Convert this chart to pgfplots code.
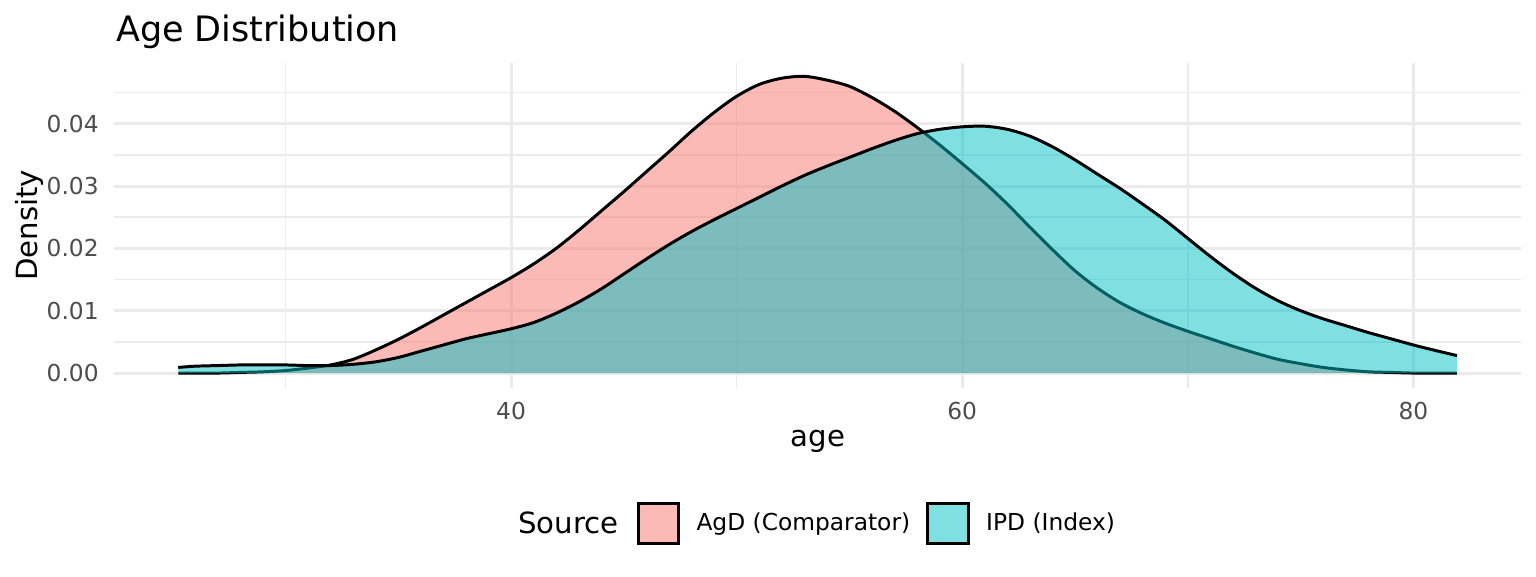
\documentclass[border=0pt]{standalone}
\usepackage{fontspec}
\setmainfont{DejaVu Sans}
\usepackage{pgfplots}
\pgfplotsset{compat=1.18}
\usepackage{pgfplotstable}
\definecolor{agd}{HTML}{F8766D}
\definecolor{ipd}{HTML}{00BFC4}
\definecolor{agdkey}{HTML}{FBBAB6}
\definecolor{ipdkey}{HTML}{7FDFE1}
\definecolor{gridc}{HTML}{EBEBEB}
\definecolor{tickc}{HTML}{4D4D4D}

\pgfplotstableread{
age d
25.25 0.0000
26 0.0000
27 0.0000
28 0.0001
29 0.0002
30 0.0004
31 0.0008
32 0.0013
33 0.0022
34 0.0037
35 0.0054
36 0.0073
37 0.0093
38 0.0113
39 0.0133
40 0.0153
41 0.0175
42 0.0200
43 0.0229
44 0.0260
45 0.0291
46 0.0323
47 0.0355
48 0.0388
49 0.0418
50 0.0444
51 0.0463
52 0.0473
53 0.0476
54 0.0470
55 0.0460
56 0.0442
57 0.0420
58 0.0394
59 0.0366
60 0.0336
61 0.0305
62 0.0271
63 0.0234
64 0.0198
65 0.0164
66 0.0136
67 0.0113
68 0.0095
69 0.0080
70 0.0067
71 0.0055
72 0.0043
73 0.0032
74 0.0022
75 0.0015
76 0.0009
77 0.0005
78 0.0002
79 0.0001
80 0.0000
81 0.0000
81.93 0.0000
}\agdtab

\pgfplotstableread{
age d
25.25 0.0009
26 0.0011
27 0.0012
28 0.0013
29 0.0013
30 0.0013
31 0.0012
32 0.0012
33 0.0014
34 0.0018
35 0.0025
36 0.0035
37 0.0045
38 0.0055
39 0.0063
40 0.0071
41 0.0081
42 0.0096
43 0.0114
44 0.0135
45 0.0159
46 0.0183
47 0.0206
48 0.0227
49 0.0246
50 0.0264
51 0.0282
52 0.0300
53 0.0317
54 0.0332
55 0.0346
56 0.0360
57 0.0373
58 0.0384
59 0.0391
60 0.0395
61 0.0396
62 0.0391
63 0.0380
64 0.0363
65 0.0342
66 0.0319
67 0.0296
68 0.0271
69 0.0245
70 0.0216
71 0.0187
72 0.0160
73 0.0136
74 0.0116
75 0.0100
76 0.0087
77 0.0076
78 0.0065
79 0.0055
80 0.0045
81 0.0036
81.93 0.0028
}\ipdtab

\begin{document}
\begin{tikzpicture}
\useasboundingbox (-41.22pt,-67.75pt) rectangle (511.74pt,139.61pt);
\begin{axis}[
  at={(0,0)}, anchor=south west,
  scale only axis, width=506.35pt, height=117pt,
  xmin=22.424, xmax=84.77, ymin=-0.00237, ymax=0.04977,
  axis line style={draw=none},
  major tick length=0pt, minor tick length=0pt,
  tick style={draw=none},
  xtick={40,60,80}, minor xtick={30,50,70},
  ytick={0,0.01,0.02,0.03,0.04}, minor ytick={0.005,0.015,0.025,0.035,0.045},
  scaled y ticks=false,
  grid=both,
  major grid style={draw=gridc, line width=1.07pt},
  minor grid style={draw=gridc, line width=0.53pt},
  /pgf/number format/assume math mode=true,
  ticklabel style={font=\fontsize{8.4}{10}\selectfont, text=tickc},
  xticklabel style={anchor=north, inner sep=0pt, yshift=-5.04pt},
  yticklabel style={anchor=east, inner sep=0pt, xshift=-5.5pt,
    /pgf/number format/.cd, fixed, fixed zerofill, precision=2},
  xlabel={age},
  xlabel style={at={(axis description cs:0.5,0)}, anchor=base, yshift=-21.3pt,
    inner sep=0pt, font=\fontsize{10.5}{12.5}\selectfont},
  ylabel={Density},
  ylabel style={at={(axis description cs:-0.0546,0.5)}, anchor=base,
    inner sep=0pt, font=\fontsize{10.5}{12.5}\selectfont},
  title={Age Distribution},
  title style={at={(axis description cs:0,1)}, anchor=base west, yshift=1.5pt,
    xshift=0.4pt, inner sep=0pt, font=\fontsize{12.6}{15}\selectfont},
  legend columns=-1,
  legend style={at={(axis description cs:0.3712,-0.4181)}, anchor=west,
    draw=none, fill=none, inner sep=0pt, outer sep=0pt,
    font=\fontsize{8.4}{10}\selectfont,
    cells={anchor=base west},
    nodes={inner sep=0pt, text depth=0pt},
    /tikz/every odd column/.append style={column sep=6.0pt},
    /tikz/every even column/.append style={column sep=5.8pt}},
]
\addplot[draw=none, fill=agd, fill opacity=0.5, smooth, forget plot]
  table[x=age, y=d] {\agdtab} \closedcycle;
\addplot[black, line width=1.07pt, smooth, forget plot]
  table[x=age, y=d] {\agdtab};
\addplot[draw=none, fill=ipd, fill opacity=0.5, smooth, forget plot]
  table[x=age, y=d] {\ipdtab} \closedcycle;
\addplot[black, line width=1.07pt, smooth, forget plot]
  table[x=age, y=d] {\ipdtab};
\addlegendimage{legend image code/.code={\draw[fill=agdkey, draw=black, line width=1.07pt] (0.535pt,-4.65pt) rectangle (15.035pt,9.85pt);}}
\addlegendentry{AgD (Comparator)}
\addlegendimage{legend image code/.code={\draw[fill=ipdkey, draw=black, line width=1.07pt] (0.535pt,-4.65pt) rectangle (15.035pt,9.85pt);}}
\addlegendentry{IPD (Index)}
\end{axis}
\node[anchor=base east, inner sep=0pt, font=\fontsize{10.5}{12.5}\selectfont] at (181.62pt,-52.27pt) {Source};
\end{tikzpicture}
\end{document}
